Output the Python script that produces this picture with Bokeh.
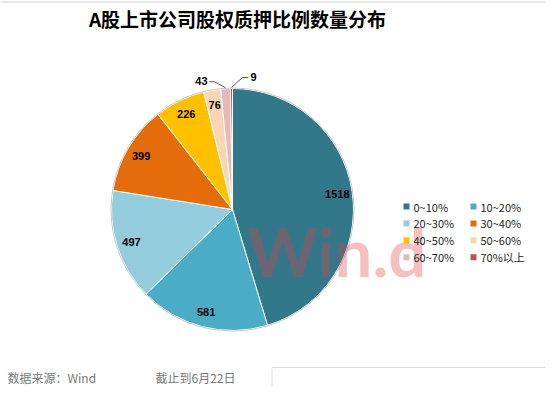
import math
from bokeh.plotting import figure
from bokeh.models import Range1d, ColumnDataSource
from bokeh.core.properties import value
from bokeh.embed import file_html
from bokeh.resources import INLINE

# ---- data ----
categories = ["0~10%", "10~20%", "20~30%", "30~40%", "40~50%", "50~60%", "60~70%", "70%以上"]
counts = [1518, 581, 497, 399, 226, 76, 43, 9]
colors = ["#33788a", "#4bacc6", "#93cddd", "#e46c0a", "#ffc000", "#fcd5b5", "#e6b9b8", "#c0504d"]
title_text = "A股上市公司股权质押比例数量分布"
source_text = "数据来源：Wind"
date_text = "截止到6月22日"
watermark = "Win.d"

# ---- layout (picture px) ----
W, H = 545, 386
def Y(sy):
    return H - sy

cx, cy, R = 232, 209, 121
label_r = 106
outside = {6: (-11, -6, -5), 7: (11, -10, 6)}  # elbow dx, dy (screen), arm length

p = figure(width=W, height=H, output_backend="svg", toolbar_location=None,
           x_range=Range1d(0, W), y_range=Range1d(0, H),
           min_border=0, background_fill_color="white", border_fill_color="white")
p.axis.visible = False
p.grid.visible = False
p.outline_line_color = None

total = float(sum(counts))
starts, ends, lx, ly, ltxt = [], [], [], [], []
cum = 0.0
out_lines_x, out_lines_y = [], []
out_tx, out_ty, out_txt, out_align = [], [], [], []
for i, c in enumerate(counts):
    f0 = cum / total
    cum += c
    f1 = cum / total
    starts.append(math.pi / 2 - f0 * 2 * math.pi)
    ends.append(math.pi / 2 - f1 * 2 * math.pi)
    th = (f0 + f1) / 2 * 2 * math.pi
    if i in outside:
        edx, edy, arm = outside[i]
        ex = cx + (R + 1) * math.sin(th)
        ey = cy - (R + 1) * math.cos(th)
        bx, by = ex + edx, ey + edy
        tx = bx + arm
        out_lines_x.append([ex, bx, tx])
        out_lines_y.append([Y(ey), Y(by), Y(by)])
        out_tx.append(tx + (2 if arm > 0 else -2))
        out_ty.append(Y(by - 1))
        out_txt.append(str(c))
        out_align.append("left" if arm > 0 else "right")
    else:
        lx.append(cx + label_r * math.sin(th))
        ly.append(Y(cy) + label_r * math.cos(th))
        ltxt.append(str(c))

src = ColumnDataSource(dict(start=starts, end=ends, color=colors))
p.wedge(x=cx, y=Y(cy), radius=R, start_angle="start", end_angle="end",
        direction="clock", fill_color="color", line_color="white", line_width=1, source=src)
p.circle(x=cx, y=Y(cy), radius=R + 0.5, fill_color=None, line_color="#c8c8c8", line_width=1)

# watermark
p.text(x=[247], y=[Y(250)], text=[watermark], text_font=value("Lato"), text_font_style="bold",
       text_font_size="67px", text_color="#e04040", text_alpha=0.33,
       text_align="left", text_baseline="middle")

# inner labels
p.text(x=lx, y=ly, text=ltxt, text_font=value("Liberation Sans"), text_font_style="bold",
       text_font_size="11px", text_color="black", text_align="center", text_baseline="middle")
# outer labels with leader lines
p.multi_line(xs=out_lines_x, ys=out_lines_y, line_color="#595959", line_width=1)
p.text(x=out_tx, y=out_ty, text=out_txt, text_align=out_align, text_font=value("Liberation Sans"),
       text_font_style="bold", text_font_size="11px", text_color="black", text_baseline="middle")

# legend
leg_x, leg_y = [], []
for i in range(len(categories)):
    col, row = i % 2, i // 2
    leg_x.append(406 + col * 67)
    leg_y.append(Y(206 + row * 16.9))
p.scatter(x=leg_x, y=leg_y, marker="square", size=6, fill_color=colors, line_color=None)
p.text(x=[x + 7 for x in leg_x], y=leg_y, text=categories, text_font=value("Noto Sans CJK SC"),
       text_font_size="11px", text_color="#262626", text_align="left", text_baseline="middle")

# title & footer
p.text(x=[237], y=[Y(18)], text=[title_text], text_font=value("Noto Sans CJK SC"),
       text_font_style="bold", text_font_size="19px", text_color="black",
       text_align="center", text_baseline="middle")
p.text(x=[7, 155], y=[Y(377), Y(377)], text=[source_text, date_text],
       text_font=value("Noto Sans CJK SC"), text_font_size="12px", text_color="#7a7a7a",
       text_align="left", text_baseline="middle")

# frame lines
p.multi_line(xs=[[0, W]], ys=[[Y(1.5), Y(1.5)]], line_color="#e0e0e0", line_width=1.5)
p.multi_line(xs=[[271.5, W], [271.5, 271.5]], ys=[[Y(367), Y(367)], [Y(368.5), 0]],
             line_color="#dcdcdc", line_width=1)

open("out.html", "w").write(file_html(p, INLINE))
